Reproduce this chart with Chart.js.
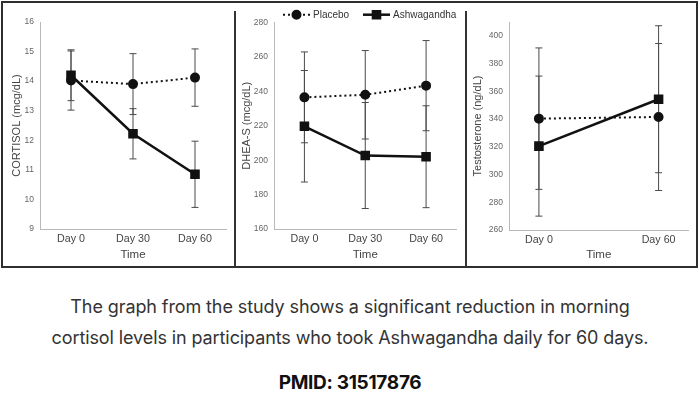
<!DOCTYPE html>
<html>
<head>
<meta charset="utf-8">
<script src="https://cdn.jsdelivr.net/npm/chart.js@4.4.1/dist/chart.umd.min.js"></script>
<style>
  html, body { margin: 0; padding: 0; background: #fff; width: 700px; height: 396px; overflow: hidden; }
  #frame { position: absolute; left: 1px; top: 1px; width: 697px; height: 267px; box-sizing: border-box; border: 2px solid #2e2e2e; }
  .divider { position: absolute; top: 11px; width: 1.5px; height: 256px; background: #333; }
  canvas { position: absolute; top: 4px; }
  .caption { position: absolute; left: 0; width: 700px; text-align: center; font-family: Inter, "Noto Sans", sans-serif; color: #333; font-size: 18px; line-height: 22px; letter-spacing: -0.1px; white-space: nowrap; }
  .pmid { position: absolute; left: 0; width: 700px; text-align: center; font-family: Inter, "Noto Sans", sans-serif; color: #111; font-size: 19px; line-height: 22px; font-weight: 700; letter-spacing: -0.3px; }
</style>
</head>
<body>
<div id="frame"></div>
<div class="divider" style="left:234px"></div>
<div class="divider" style="left:465px"></div>
<canvas id="cortisol" width="230" height="262" style="left:4px"></canvas>
<canvas id="dhea" width="228" height="262" style="left:236px"></canvas>
<canvas id="testo" width="229" height="262" style="left:467px"></canvas>
<div class="caption" style="top:296px">The graph from the study shows a significant reduction in morning</div>
<div class="caption" style="top:327px">cortisol levels in participants who took Ashwagandha daily for 60 days.</div>
<div class="pmid" style="top:372px">PMID: 31517876</div>

<script>
const days = [0, 30, 60];
const dayLabels = ['Day 0', 'Day 30', 'Day 60'];
const testoDays = [0, 60];
const testoDayLabels = ['Day 0', 'Day 60'];

const cortisolPlacebo = [14.02, 13.9, 14.12];
const cortisolPlaceboErr = [1.0, 1.03, 0.97];
const cortisolAshwa = [14.2, 12.22, 10.85];
const cortisolAshwaErr = [0.86, 0.85, 1.12];

const dheaPlacebo = [236.5, 238, 243.3];
const dheaPlaceboErr = [26.4, 25.7, 26.2];
const dheaAshwa = [219.7, 202.7, 202];
const dheaAshwaErr = [32.4, 30.8, 29.6];

const testoPlacebo = [340.3, 341.5];
const testoPlaceboErr = [51, 53];
const testoAshwa = [320.5, 354.3];
const testoAshwaErr = [50.5, 53];

const legendNames = ['Placebo', 'Ashwagandha'];

const FONT = 'Liberation Sans, Arial, sans-serif';
const INK = '#111';

// error bars drawn from the scales, under the lines
const errorBars = {
    id: 'errorBars',
    beforeDatasetsDraw(chart) {
        const ctx = chart.ctx;
        const x = chart.scales.x;
        const y = chart.scales.y;
        ctx.save();
        ctx.strokeStyle = '#4a4a4a';
        ctx.lineWidth = 1;
        chart.data.datasets.forEach(ds => {
            ds.data.forEach((p, i) => {
                const err = ds.errors[i];
                const px = x.getPixelForValue(p.x);
                const top = y.getPixelForValue(p.y + err);
                const bot = y.getPixelForValue(p.y - err);
                ctx.beginPath();
                ctx.moveTo(px, top); ctx.lineTo(px, bot);
                ctx.moveTo(px - 3.5, top); ctx.lineTo(px + 3.5, top);
                ctx.moveTo(px - 3.5, bot); ctx.lineTo(px + 3.5, bot);
                ctx.stroke();
            });
        });
        ctx.restore();
    }
};

// line + marker legend like the original figure
const markerLegend = {
    id: 'markerLegend',
    afterDraw(chart, args, opts) {
        if (!opts.show) return;
        const ctx = chart.ctx;
        const ds = chart.data.datasets;
        const y0 = opts.y;
        ctx.save();
        ctx.font = '10px ' + FONT;
        ctx.textBaseline = 'middle';
        opts.items.forEach((it, i) => {
            const d = ds[i];
            ctx.strokeStyle = INK;
            ctx.lineWidth = d.borderWidth;
            ctx.setLineDash(d.borderDash || []);
            ctx.beginPath();
            ctx.moveTo(it.x, y0); ctx.lineTo(it.x + it.w, y0);
            ctx.stroke();
            ctx.setLineDash([]);
            Chart.helpers.drawPoint(ctx, { pointStyle: d.pointStyle, radius: d.pointRadius, borderWidth: 1 }, it.x + it.w / 2, y0);
            ctx.fillStyle = INK;
            ctx.fill();
            ctx.fillStyle = '#333';
            ctx.fillText(legendNames[i], it.x + it.w + 3, y0 + 0.5);
        });
        ctx.restore();
    }
};

function pts(xs, ys) {
    return xs.map((x, i) => ({ x: x, y: ys[i] }));
}

function makePanel(id, p) {
    return new Chart(document.getElementById(id), {
        type: 'line',
        data: {
            datasets: [
                {
                    label: legendNames[0],
                    data: pts(p.xs, p.placebo),
                    errors: p.placeboErr,
                    borderColor: INK, backgroundColor: INK,
                    borderWidth: 2, borderDash: [2, 3],
                    pointStyle: 'circle', pointRadius: 4, pointHoverRadius: 4
                },
                {
                    label: legendNames[1],
                    data: pts(p.xs, p.ashwa),
                    errors: p.ashwaErr,
                    borderColor: INK, backgroundColor: INK,
                    borderWidth: 2.5,
                    pointStyle: 'rect', pointRadius: 5, pointHoverRadius: 5
                }
            ]
        },
        options: {
            responsive: false,
            animation: false,
            events: [],
            layout: { padding: { top: p.padTop, right: p.padRight, left: 0, bottom: 0 } },
            plugins: {
                legend: { display: false },
                tooltip: { enabled: false },
                markerLegend: { show: !!p.legend, items: p.legend || [], y: 10.7 }
            },
            scales: {
                x: {
                    type: 'linear', min: -15, max: 75,
                    grid: { display: false, drawTicks: false },
                    border: { display: true, color: '#b8b8b8', width: 1 },
                    afterBuildTicks: s => { s.ticks = p.xs.map(v => ({ value: v })); },
                    afterFit: s => { s.height = p.xHeight; },
                    ticks: {
                        padding: 4,
                        color: '#444',
                        font: { family: FONT, size: 10.7 },
                        maxRotation: 0,
                        callback: v => p.xLabels[p.xs.indexOf(v)]
                    },
                    title: {
                        display: true, text: 'Time', color: '#444',
                        font: { family: FONT, size: 11.5 },
                        padding: { top: 0, bottom: 4 }
                    }
                },
                y: {
                    min: p.min, max: p.max,
                    grid: { display: false, drawTicks: false },
                    border: { display: true, color: '#b8b8b8', width: 1 },
                    afterBuildTicks: s => { s.ticks = s.ticks.filter(t => Math.abs(t.value / p.step - Math.round(t.value / p.step)) < 1e-6); },
                    afterFit: s => { s.width = p.yWidth; },
                    ticks: {
                        stepSize: p.step,
                        padding: 6,
                        color: '#666',
                        font: { family: FONT, size: 8.5 }
                    },
                    title: {
                        display: true, text: p.yTitle, color: '#444',
                        font: { family: FONT, size: 11 },
                        padding: { top: p.titlePad, bottom: 0 }
                    }
                }
            }
        },
        plugins: [errorBars, markerLegend]
    });
}

makePanel('cortisol', {
    xs: days, xLabels: dayLabels,
    placebo: cortisolPlacebo, placeboErr: cortisolPlaceboErr,
    ashwa: cortisolAshwa, ashwaErr: cortisolAshwaErr,
    min: 9, max: 16, step: 1,
    yTitle: 'CORTISOL (mcg/dL)', titlePad: 6.5,
    yWidth: 36, xHeight: 37, padTop: 18, padRight: 8
});

makePanel('dhea', {
    xs: days, xLabels: dayLabels,
    placebo: dheaPlacebo, placeboErr: dheaPlaceboErr,
    ashwa: dheaAshwa, ashwaErr: dheaAshwaErr,
    min: 160, max: 280, step: 20,
    yTitle: 'DHEA-S (mcg/dL)', titlePad: 4,
    yWidth: 38, xHeight: 37, padTop: 18.5, padRight: 4,
    legend: [{ x: 47, w: 27 }, { x: 127, w: 27 }]
});

makePanel('testo', {
    xs: testoDays, xLabels: testoDayLabels,
    placebo: testoPlacebo, placeboErr: testoPlaceboErr,
    ashwa: testoAshwa, ashwaErr: testoAshwaErr,
    min: 260, max: 410, step: 20,
    yTitle: 'Testosterone (ng/dL)', titlePad: 4,
    yWidth: 42, xHeight: 36, padTop: 18, padRight: 6
});
</script>
</body>
</html>
